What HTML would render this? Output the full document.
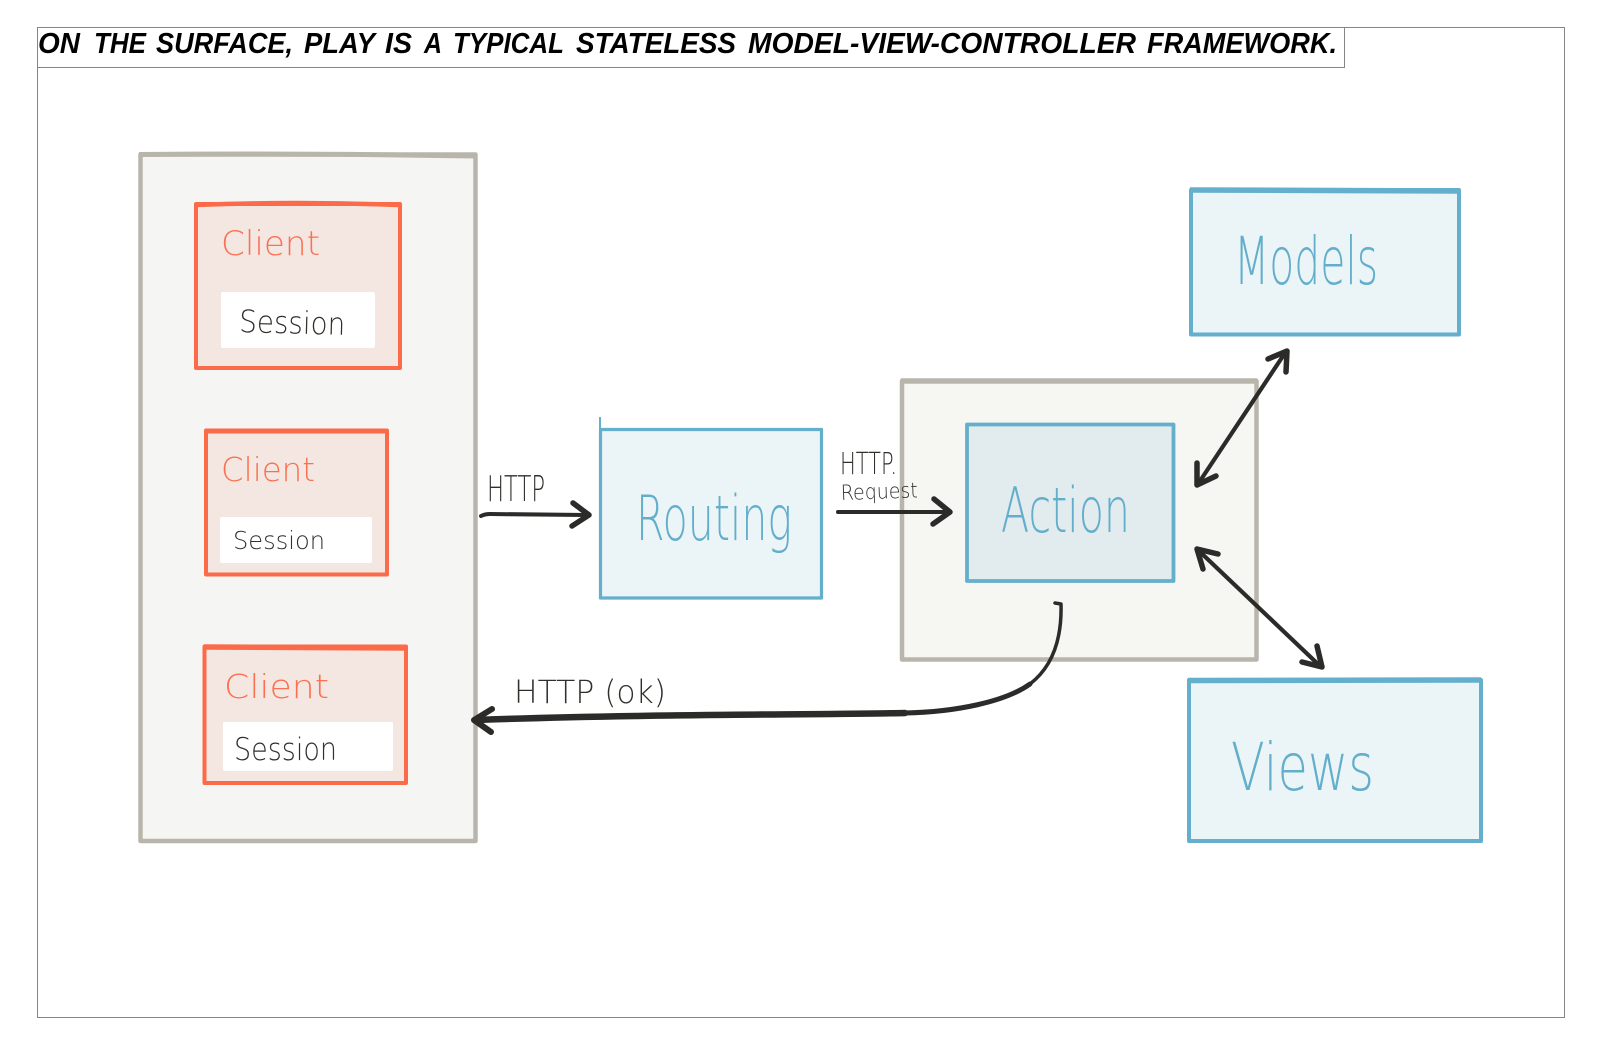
<!DOCTYPE html>
<html><head><meta charset="utf-8"><style>
html,body{margin:0;padding:0;background:#fff;width:1600px;height:1044px;overflow:hidden}
svg{display:block}
.hand{font-family:"DejaVu Sans","Liberation Sans",sans-serif;font-weight:200}
.blue{fill:#63afcb}.red{fill:#fb7050}.ink{fill:#2f2f2b}
.t{font-family:"Liberation Sans",sans-serif;font-weight:700;font-style:italic;font-size:29px;fill:#000}
</style></head><body>
<svg width="1600" height="1044" viewBox="0 0 1600 1044" xmlns="http://www.w3.org/2000/svg">
<rect width="1600" height="1044" fill="#fff"/>
<rect x="37.500" y="27.500" width="1527" height="990" fill="#fff" stroke="#858585" stroke-width="1"/>
<rect x="37.500" y="27.500" width="1307" height="40" fill="#fff" stroke="#858585" stroke-width="1"/>
<text class="t" x="38" y="53" textLength="42" lengthAdjust="spacingAndGlyphs">ON</text>
<text class="t" x="94" y="53" textLength="52" lengthAdjust="spacingAndGlyphs">THE</text>
<text class="t" x="156" y="53" textLength="137" lengthAdjust="spacingAndGlyphs">SURFACE,</text>
<text class="t" x="304" y="53" textLength="71" lengthAdjust="spacingAndGlyphs">PLAY</text>
<text class="t" x="385" y="53" textLength="27" lengthAdjust="spacingAndGlyphs">IS</text>
<text class="t" x="424" y="53" textLength="18" lengthAdjust="spacingAndGlyphs">A</text>
<text class="t" x="453" y="53" textLength="111" lengthAdjust="spacingAndGlyphs">TYPICAL</text>
<text class="t" x="576" y="53" textLength="160" lengthAdjust="spacingAndGlyphs">STATELESS</text>
<text class="t" x="748" y="53" textLength="388" lengthAdjust="spacingAndGlyphs">MODEL-VIEW-CONTROLLER</text>
<text class="t" x="1147" y="53" textLength="190" lengthAdjust="spacingAndGlyphs">FRAMEWORK.</text>

<g stroke-linejoin="round">
<rect x="140.500" y="154.500" width="335" height="686.500" fill="#f5f5f3" stroke="#b9b5ac" stroke-width="4.500"/>
<path d="M139 154.500Q300 153 475 156" fill="none" stroke="#b9b5ac" stroke-width="5"/>
<rect x="196" y="204" width="204" height="164" fill="#f4e6e1" stroke="#fc6b49" stroke-width="4"/>
<path d="M195 205Q295 201 400 205" fill="none" stroke="#fc6b49" stroke-width="4.500"/>
<rect x="221" y="292" width="154" height="56" rx="2" fill="#fff"/>
<rect x="206" y="430.500" width="181" height="144" fill="#f4e6e1" stroke="#fc6b49" stroke-width="4"/>
<path d="M205 431L387 431" fill="none" stroke="#fc6b49" stroke-width="5"/>
<rect x="220" y="517" width="152" height="46" rx="2" fill="#fff"/>
<rect x="204.500" y="646.500" width="201.500" height="136.500" fill="#f4e6e1" stroke="#fc6b49" stroke-width="4"/>
<path d="M204 647L406 648" fill="none" stroke="#fc6b49" stroke-width="5.500"/>
<rect x="223" y="722" width="170" height="49" rx="2" fill="#fff"/>

<rect x="600.500" y="429.500" width="221" height="168.500" fill="#ebf4f7" stroke="#64afcb" stroke-width="3.200"/>
<path d="M600 417V430" stroke="#64afcb" stroke-width="2" fill="none"/>

<rect x="902" y="381" width="354.500" height="278.500" fill="#f6f6f3" stroke="#b9b5ac" stroke-width="4.500"/>
<path d="M901 381L1257 381" fill="none" stroke="#b9b5ac" stroke-width="5.500"/>
<rect x="967" y="424.500" width="206.500" height="156.500" fill="#e2ebee" stroke="#64afcb" stroke-width="3.800"/>
<rect x="1191" y="190" width="268" height="144.500" fill="#ebf4f7" stroke="#64afcb" stroke-width="4"/>
<path d="M1190 190L1459 191" fill="none" stroke="#64afcb" stroke-width="5.500"/>
<rect x="1189" y="680" width="292" height="161" fill="#ebf4f7" stroke="#64afcb" stroke-width="4"/>
<path d="M1188 680.500L1481 680" fill="none" stroke="#64afcb" stroke-width="5.500"/>
</g>

<!-- labels -->
<text class="hand red" x="221" y="255" font-size="34" textLength="99" lengthAdjust="spacingAndGlyphs">Client</text>
<text class="hand ink" x="239" y="332" font-size="31" textLength="106" lengthAdjust="spacingAndGlyphs" transform="rotate(1.500 239 332)">Session</text>
<text class="hand red" x="221" y="481" font-size="33" textLength="94" lengthAdjust="spacingAndGlyphs">Client</text>
<text class="hand ink" x="233" y="549" font-size="25" textLength="92" lengthAdjust="spacingAndGlyphs">Session</text>
<text class="hand red" x="224" y="698" font-size="33" textLength="105" lengthAdjust="spacingAndGlyphs">Client</text>
<text class="hand ink" x="234" y="760" font-size="31" textLength="103" lengthAdjust="spacingAndGlyphs">Session</text>
<text class="hand blue" x="636" y="540" font-size="62" textLength="156" lengthAdjust="spacingAndGlyphs">Routing</text>
<text class="hand blue" x="1001" y="532" font-size="62" textLength="129" lengthAdjust="spacingAndGlyphs">Action</text>
<text class="hand blue" x="1234" y="284" font-size="66" textLength="144" lengthAdjust="spacingAndGlyphs">Models</text>
<text class="hand blue" x="1231" y="790" font-size="66" textLength="143" lengthAdjust="spacingAndGlyphs">Views</text>
<text class="hand ink" x="487" y="501" font-size="36" textLength="58" lengthAdjust="spacingAndGlyphs">HTTP</text>
<text class="hand ink" x="840" y="474" font-size="30" textLength="57" lengthAdjust="spacingAndGlyphs">HTTP.</text>
<text class="hand ink" x="841" y="500" font-size="21" textLength="77" lengthAdjust="spacingAndGlyphs" font-weight="400" transform="rotate(-2 841 500)">Request</text>
<text class="hand ink" x="514" y="703" font-size="32" textLength="152" lengthAdjust="spacingAndGlyphs">HTTP (ok)</text>

<!-- connectors -->
<g fill="none" stroke="#2b2b29" stroke-linecap="round" stroke-linejoin="round">
<path d="M481 516Q485 514 490 514L586 515" stroke-width="4"/>
<path d="M573 503L589 515L572 526" stroke-width="5.500"/>
<path d="M838 512L948 512" stroke-width="4"/>
<path d="M934 499L950 512L933 524" stroke-width="5.500"/>
<path d="M1285 353L1198 484" stroke-width="4.200"/>
<path d="M1268 359L1287 351L1286 372" stroke-width="5.500"/>
<path d="M1216 476L1197 485L1197 463" stroke-width="5.500"/>
<path d="M1198 550L1320 666" stroke-width="4.200"/>
<path d="M1218 554L1197 549L1203 569" stroke-width="5.500"/>
<path d="M1302 662L1322 667L1317 646" stroke-width="5.500"/>
<path d="M1055 603L1061 604C1062 640 1052 667 1030 684" stroke-width="3.500"/>
<path d="M1030 684C1005 702 955 712 905 713" stroke-width="5"/>
<path d="M905 713C800 715 640 714 476 720" stroke-width="6.500"/>
<path d="M492 709L474 720L491 732" stroke-width="6"/>
</g>
</svg>
</body></html>
